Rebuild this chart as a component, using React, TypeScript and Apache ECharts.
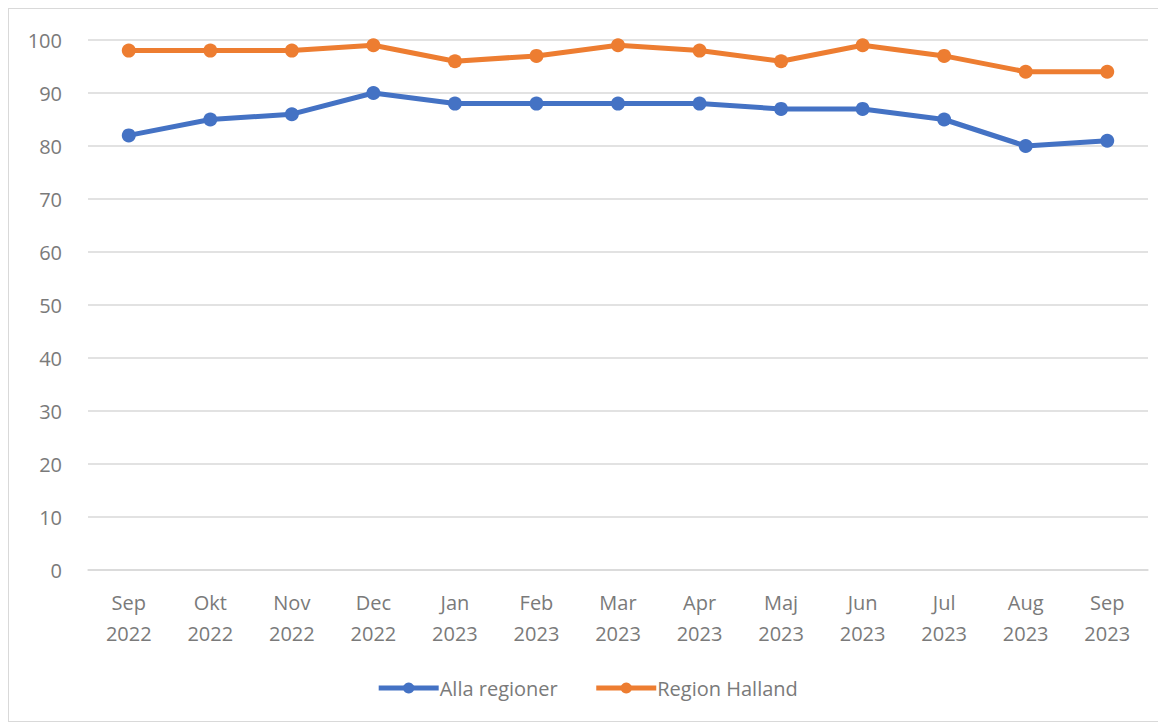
import React, { useEffect, useRef } from "react";
import * as echarts from "echarts";

const categories = [
  "Sep\n2022", "Okt\n2022", "Nov\n2022", "Dec\n2022", "Jan\n2023", "Feb\n2023", "Mar\n2023",
  "Apr\n2023", "Maj\n2023", "Jun\n2023", "Jul\n2023", "Aug\n2023", "Sep\n2023",
];
const allaRegioner = [82, 85, 86, 90, 88, 88, 88, 88, 87, 87, 85, 80, 81];
const regionHalland = [98, 98, 98, 99, 96, 97, 99, 98, 96, 99, 97, 94, 94];

const FONT = "'Open Sans', sans-serif";
const GRAY = "#7a7a7a";

export default function App() {
  const ref = useRef<HTMLDivElement>(null);
  useEffect(() => {
    if (!ref.current) return;
    const chart = echarts.init(ref.current, undefined, { renderer: "svg" });
    chart.setOption({
      animation: false,
      textStyle: { fontFamily: FONT },
      grid: { left: 79, top: 31, width: 1060, height: 530, containLabel: false },
      legend: {
        bottom: 18,
        left: "center",
        itemWidth: 60,
        itemHeight: 14,
        itemGap: 36,
        lineStyle: { width: 5 },
        textStyle: { fontSize: 20, color: GRAY, fontFamily: FONT, padding: [0, 0, 0, -4] },
        data: ["Alla regioner", "Region Halland"],
      },
      xAxis: {
        type: "category",
        data: categories,
        boundaryGap: true,
        axisLine: { show: true, lineStyle: { color: "#d9d9d9", width: 1.5 } },
        axisTick: { show: false },
        axisLabel: { color: GRAY, fontSize: 20, lineHeight: 31, margin: 17, interval: 0, fontFamily: FONT },
      },
      yAxis: {
        type: "value",
        min: 0,
        max: 100,
        interval: 10,
        axisLine: { show: false },
        axisTick: { show: false },
        splitLine: { lineStyle: { color: "#d9d9d9", width: 1.5 } },
        axisLabel: { color: GRAY, fontSize: 20, margin: 26, fontFamily: FONT },
      },
      series: [
        {
          name: "Alla regioner",
          type: "line",
          data: allaRegioner,
          symbol: "circle",
          symbolSize: 14,
          lineStyle: { color: "#4472C4", width: 5 },
          itemStyle: { color: "#4472C4" },
        },
        {
          name: "Region Halland",
          type: "line",
          data: regionHalland,
          symbol: "circle",
          symbolSize: 14,
          lineStyle: { color: "#ED7D31", width: 5 },
          itemStyle: { color: "#ED7D31" },
        },
      ],
    });
    return () => chart.dispose();
  }, []);
  return (
    <div style={{ width: 1158, height: 714, border: "1px solid #d9d9d9", boxSizing: "border-box", background: "#fff" }}>
      <div ref={ref} style={{ width: 1156, height: 712 }} />
    </div>
  );
}
